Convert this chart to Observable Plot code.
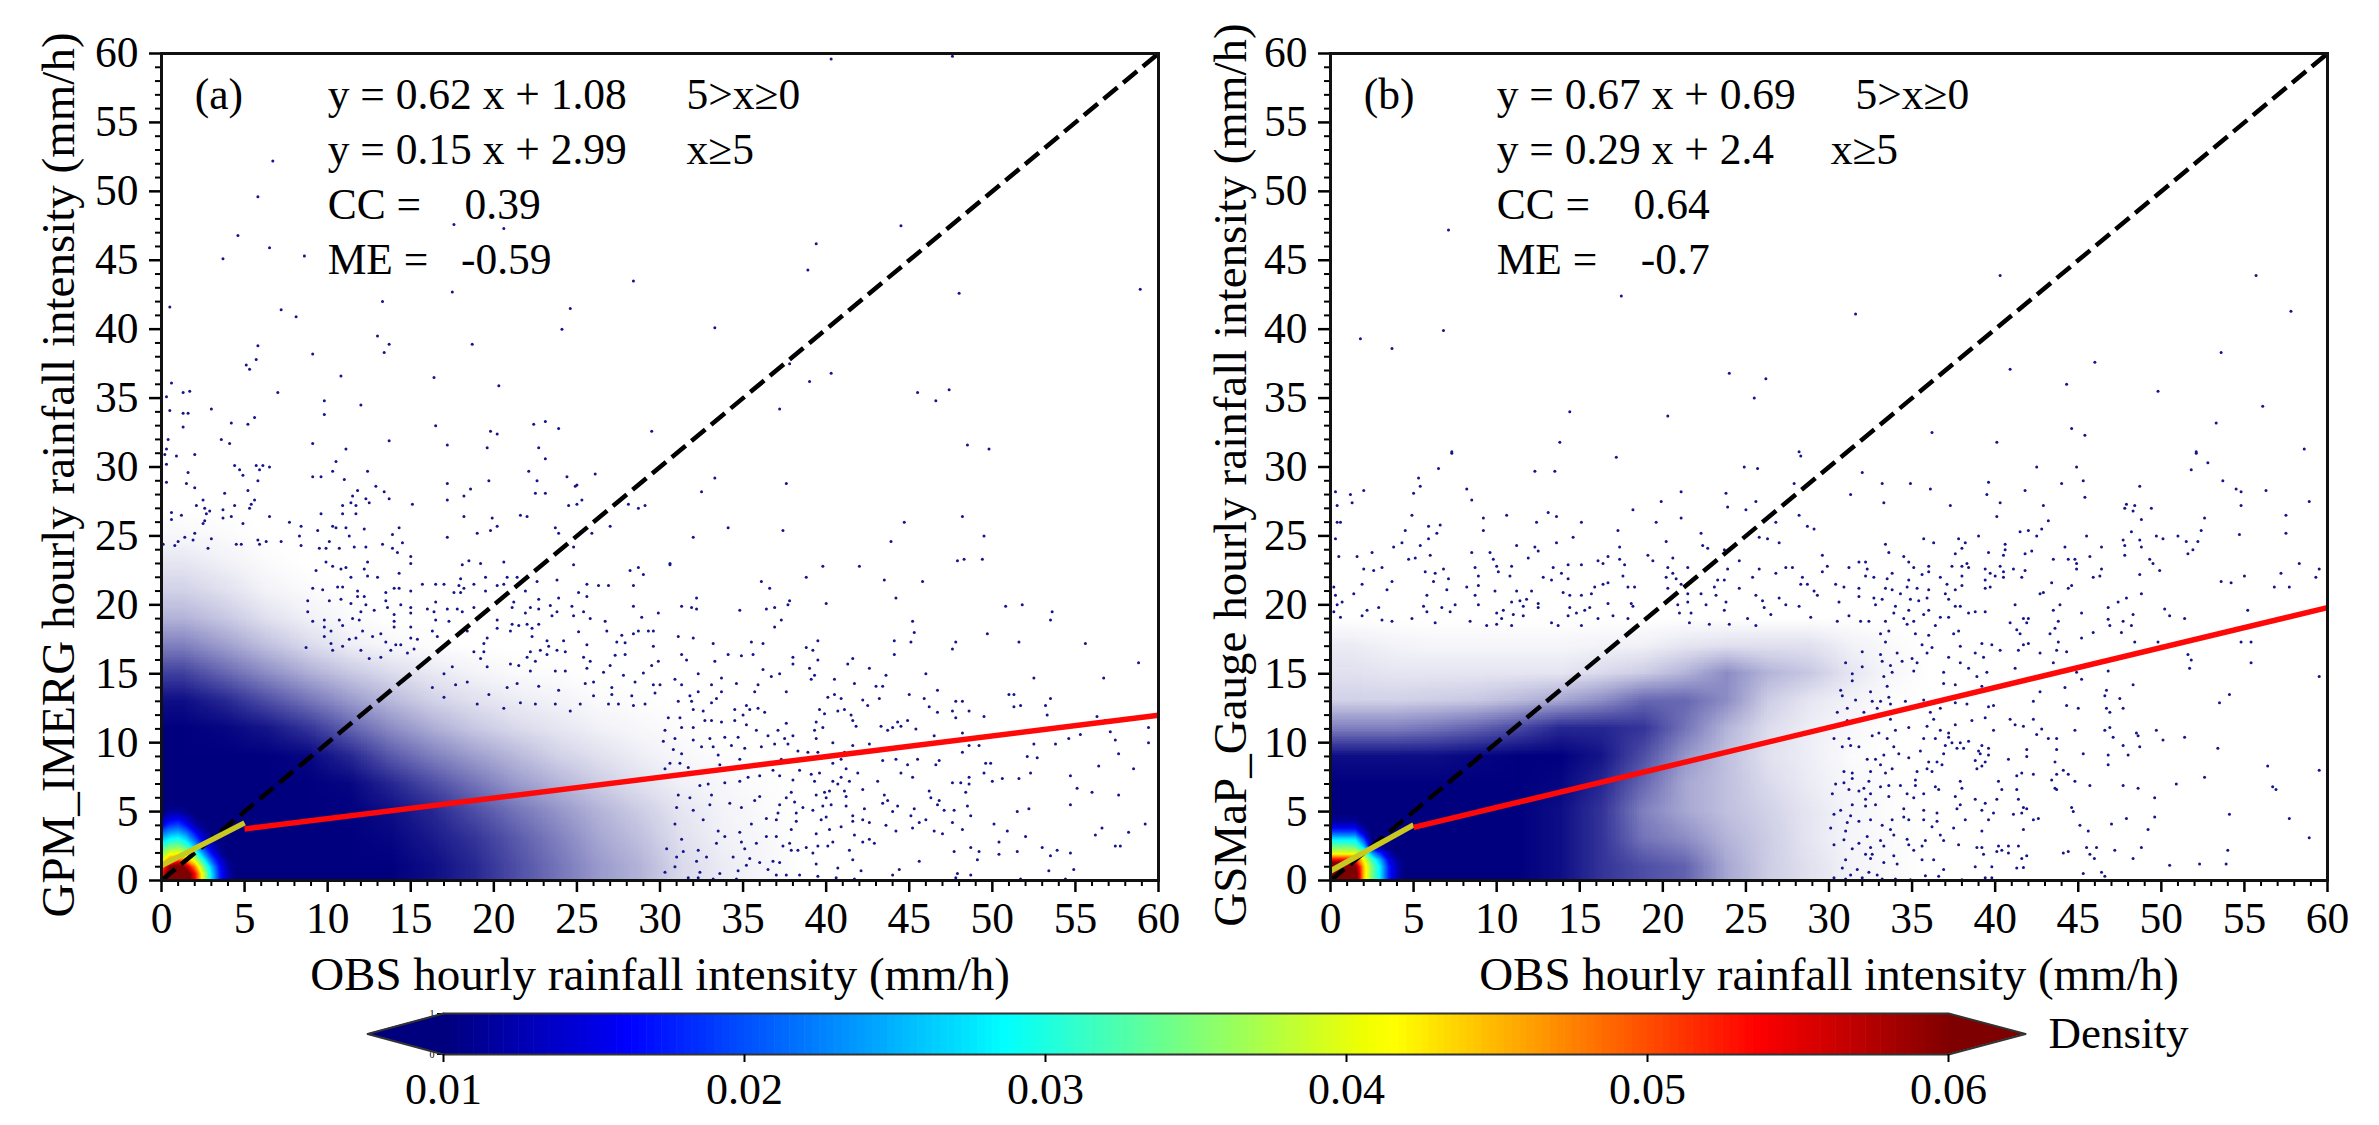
<!DOCTYPE html>
<html><head><meta charset="utf-8">
<script src="https://cdn.jsdelivr.net/npm/d3@7"></script>
<script src="https://cdn.jsdelivr.net/npm/@observablehq/plot@0.6"></script>
<style>
html,body{margin:0;padding:0;background:#fff}
#row{display:flex;width:2379px}
svg{display:block;overflow:visible}
</style></head><body>
<div id="row"></div><div id="bar"></div>
<script>
const FONT = "Liberation Serif";
const majorTicks = [0,5,10,15,20,25,30,35,40,45,50,55,60];
const minorTicks = d3.range(0,61).filter(v => v % 5 !== 0);
const densityTicks = [0.01,0.02,0.03,0.04,0.05,0.06];
const jetStops = [0.01,0.0155,0.016,0.0275,0.0285,0.0405,0.0415,0.0535,0.06];
const jetColors = ["#00007f","#0000f0","#0000ff","#00e8ff","#00ffff","#f0ff00","#ffff00","#ff0000","#7f0000"];

const labelA = "(a)", labelB = "(b)";
const titleYA = "GPM_IMERG hourly rainfall intensity (mm/h)";
const titleYB = "GSMaP_Gauge hourly rainfall intensity (mm/h)";
const titleX = "OBS hourly rainfall intensity (mm/h)";
const statsA = ["y = 0.62 x + 1.08","y = 0.15 x + 2.99","CC =    0.39","ME =   -0.59"];
const statsB = ["y = 0.67 x + 0.69","y = 0.29 x + 2.4","CC =    0.64","ME =    -0.7"];
const rangeA = [{t:"5>x≥0",x:31.6,y:57},{t:"x≥5",x:31.6,y:53}];
const rangeB = [{t:"5>x≥0",x:31.6,y:57},{t:"x≥5",x:30.1,y:53}];

const identity = [[0,0],[60,60]];
const fitLowA = [[0,1.08],[5,4.18]], fitHighA = [[5,3.74],[60,11.99]];
const fitLowB = [[0,0.69],[5,4.04]], fitHighB = [[5,3.85],[60,19.8]];

// Share of the picture covered by overlapping dots, read by eye, 2.5 x 2 mm/h blocks. First row is lowest.
const coverageA = [
1,1,1,1,1,1,.95,.85,.7,.55,.4,.3,.15,.08,.04,0,
1,1,1,1,1,.98,.9,.8,.65,.5,.35,.25,.12,.06,.03,0,
1,1,1,1,1,.95,.85,.7,.55,.42,.3,.2,.1,.05,.02,0,
1,1,1,1,.98,.85,.7,.55,.4,.3,.2,.12,.06,.03,.01,0,
1,1,1,.98,.85,.65,.5,.38,.28,.18,.12,.07,.03,.01,0,0,
1,.98,.92,.8,.62,.45,.32,.22,.15,.1,.06,.03,.01,0,0,0,
.95,.85,.7,.55,.4,.28,.18,.12,.08,.05,.02,.01,0,0,0,0,
.75,.6,.45,.32,.22,.14,.09,.05,.02,.01,0,0,0,0,0,0,
.5,.38,.25,.15,.07,.03,.01,0,0,0,0,0,0,0,0,0,
.3,.22,.12,.06,.02,0,0,0,0,0,0,0,0,0,0,0,
.18,.12,.05,.02,0,0,0,0,0,0,0,0,0,0,0,0,
.1,.06,.02,0,0,0,0,0,0,0,0,0,0,0,0,0,
.03,.02,0,0,0,0,0,0,0,0,0,0,0,0,0,0,
0,0,0,0,0,0,0,0,0,0,0,0,0,0,0,0
];
const coverageB = [
1,1,1,1,1,.95,.8,.7,.62,.35,.2,.12,.05,.02,0,0,
1,1,1,1,1,.95,.8,.55,.45,.3,.2,.1,.04,.02,0,0,
1,1,1,1,1,.95,.8,.5,.35,.25,.18,.1,.04,.01,0,0,
1,1,1,1,1,.98,.85,.6,.35,.25,.15,.08,.03,.01,0,0,
.95,.95,.95,.98,1,1,.92,.7,.42,.25,.12,.07,.02,0,0,0,
.5,.5,.55,.62,.72,.85,.85,.8,.55,.3,.14,.07,.03,0,0,0,
.18,.18,.2,.22,.28,.35,.45,.6,.6,.45,.2,.1,.05,.01,0,0,
.12,.1,.1,.1,.1,.1,.15,.2,.3,.45,.3,.22,.1,.03,0,0,
.08,.05,.04,.04,.04,.04,.05,.06,.1,.12,.12,.12,.06,.02,0,0,
0,0,0,0,0,0,0,0,0,0,0,0,0,0,0,0
];
// Density near the origin, 0.5 mm/h grid, read by eye against the colour bar. First row is lowest.
const hotA = [
.05,.065,.07,.065,.055,.04,.028,.018,.013,.01,.01,
.052,.065,.07,.065,.054,.04,.028,.018,.013,.01,.01,
.048,.06,.065,.058,.048,.036,.026,.017,.012,.01,.01,
.04,.048,.05,.046,.04,.03,.021,.015,.011,.01,.01,
.036,.04,.041,.038,.032,.024,.017,.012,.01,.01,.01,
.031,.034,.035,.032,.026,.019,.014,.011,.01,.01,.01,
.026,.029,.03,.027,.021,.015,.012,.01,.01,.01,.01,
.021,.024,.025,.022,.017,.013,.01,.01,.01,.01,.01,
.016,.019,.02,.017,.013,.011,.01,.01,.01,.01,.01,
.013,.015,.016,.014,.011,.01,.01,.01,.01,.01,.01,
.01,.012,.012,.011,.01,.01,.01,.01,.01,.01,.01,
.01,.01,.01,.01,.01,.01,.01,.01,.01,.01,.01
];
const hotB = [
.07,.07,.07,.065,.045,.035,.028,.018,.013,.01,.01,
.07,.07,.07,.065,.045,.035,.028,.018,.013,.01,.01,
.07,.07,.07,.062,.045,.035,.028,.018,.013,.01,.01,
.054,.054,.054,.052,.042,.032,.025,.016,.012,.01,.01,
.04,.04,.04,.04,.035,.024,.018,.013,.01,.01,.01,
.034,.034,.034,.033,.026,.013,.011,.01,.01,.01,.01,
.028,.028,.028,.028,.02,.01,.01,.01,.01,.01,.01,
.02,.02,.02,.02,.014,.01,.01,.01,.01,.01,.01,
.014,.014,.014,.014,.011,.01,.01,.01,.01,.01,.01,
.011,.011,.011,.011,.01,.01,.01,.01,.01,.01,.01,
.01,.01,.01,.01,.01,.01,.01,.01,.01,.01,.01,
.01,.01,.01,.01,.01,.01,.01,.01,.01,.01,.01
];

// Individual dots: [OBS, GPM_IMERG]
const dotsAUpper = [[40.3,59.6],[47.6,59.8],[44.5,47.5],[39.4,46.2],[38.9,44.3],[48,42.6],[58.9,42.9],[33.3,40.1],[37.8,37.5],[40.3,36.8],[39,36.2],[45.5,35.4],[47.4,35.6],[46.6,34.8],[37.2,34.2],[48.5,31.6],[49.8,31.3],
[6.7,52.2],[5.8,49.6],[4.6,46.8],[6.5,45.9],[8.6,45.3],[3.7,45.1],[17.6,47.6],[20.6,47.3],[28.4,43.5],[17.5,42.7]];
const dotsALeft = [[13.3,42],[24.6,41.5],[7.2,41.4],[8.1,40.9],[0.5,41.6],[0,42.1],[24.1,40],[13,39.5],[13.7,38.9],[5.8,38.8],[18.7,38.9],[0,39.4],[13.4,38.3],[9.1,38.2],[5.7,37.8],[5.1,37.4],[5.3,37.1],[10.8,36.6],[16.4,36.5],[20.3,35.9],[0,36.3],[0.6,36.1],[1.3,35.4],[1.7,35.5],[7,35.4],[0.3,35.1],[9.8,34.8],[12,34.5],[3,34.2],[0.5,34.1],[1.3,33.9],[1.6,33.9],[9.8,33.8],[5.6,33.6],[4.2,33.2],[5.2,33.1],[1.3,32.9],[16.5,33],[19.8,32.6],[20.2,32.4],[22.4,33.1],[23.1,33.3],[23.9,32.8],[29.5,32.6],[0.4,32],[3.6,32],[4.1,31.7],[9.1,31.7],[13.7,31.9],[17.2,31.6],[19.6,31.4],[22.7,31.4],[11.1,31.3],[0.3,31.3],[2,30.9],[0.9,30.8],[0.2,30.9],[23.1,30.6],[10.5,30.4],[0.3,30.2],[4.4,30.1],[4.7,29.8],[5.7,30.1],[6.1,30.1],[6.5,30],[5.9,29.8],[1.6,29.6],[4.9,29.4],[10.3,29.7],[12.4,29.7],[22.1,29.7],[26.1,29.5],[9.1,29.3],[9.6,29.3],[11,29.1],[24.4,29.3],[0.3,28.9],[5.8,29],[1.5,28.8],[19.7,29],[22.6,29],[17.2,28.8],[25,28.7],[24.9,28.6],[2,28.5],[12.9,28.6],[5.2,28.3],[11.8,28.3],[13.4,28.2],[18.6,28.4],[3.8,28.1],[22.5,28.1],[23.1,28.1],[11.5,27.9],[18.2,27.9],[2.5,27.6],[5.6,27.6],[12.3,27.7],[13.7,27.7],[17.2,27.6],[11.4,27.4],[12.5,27.4],[15.1,27.3],[2.1,27.2],[4.4,27.2],[5.4,27.3],[10.9,27.2],[11.7,27.2],[25.3,27.6],[25,27.3],[24.5,27.2],[28.1,27.3],[29.1,27.2],[28.7,27],[2.6,27],[5.3,27],[2.9,26.8],[3.7,26.9],[0.6,26.7],[2.7,26.6],[9.6,26.6],[10.9,26.6],[11.7,26.6],[1.2,26.5],[3.7,26.3],[4.2,26.4],[6.5,26.4],[18.2,26.4],[19.9,26.3],[21.6,26.5],[22,26.4],[0.6,26.2],[2.6,26.1],[7.7,26],[2.5,25.9],[4.9,25.9],[8.4,25.7],[10.3,25.7],[10.5,25.6],[14.3,25.6],[20.2,25.7],[23.7,25.6],[27,25.7],[9.4,25.4],[11.1,25.6],[12.2,25.5],[19.8,25.4],[19,25.2],[23.9,25.2],[25.9,25.2],[2,25.2],[13.9,25.1],[8.3,25],[11.3,25],[1.4,24.9],[3,24.8],[17.2,24.9],[1.9,24.7],[5.8,24.7],[6.3,24.6],[7.2,24.6],[10.1,24.6],[4.5,24.4],[4.8,24.4],[5.9,24.4],[13.3,24.4],[14.5,24.5],[11.6,24.2],[12.3,24.2],[8.4,24.3],[13.9,24.1],[24.8,24.2],[0.8,24.3],[0.1,24.4],[1,24.6],[2.8,24.1],[10.7,24.1],[9.5,24.1],[9.9,24.1]];
const dotsAMiddle = [[14.2,23.8],[15,23.5],[9.9,23.1],[12.4,23.1],[15,23],[10.3,22.8],[10.8,22.6],[11.1,22.7],[12.2,22.6],[9.3,22.5],[14.3,22.3],[12.4,22.1],[13,22],[11.4,22],[18.1,22.9],[18.5,23.2],[19.2,23],[20.6,23.1],[24.8,22.9],[30.6,23],[28.7,22.7],[28.2,22.5],[29,22.2],[18,21.9],[19.5,22],[20.8,22],[21.4,22],[23.8,21.8],[22.6,21.7],[15.7,21.5],[16.5,21.5],[17,21.5],[18.8,21.5],[17.9,21.4],[20.2,21.4],[20.6,21.5],[25.6,21.5],[26.3,21.4],[26.9,21.4],[28.4,21.4],[14,21.2],[14.3,21.2],[10.6,21.3],[10.9,21.3],[9.1,21.2],[9.7,21.1],[11.8,21],[13.5,20.9],[15,21],[18.2,21.2],[17.6,20.9],[18,20.9],[19.5,21],[21.9,21],[25.1,20.9],[25.6,20.6],[11.8,20.6],[12.2,20.6],[23.9,20.5],[21.2,20.2],[22.7,20.4],[10.1,20.3],[10.8,20.4],[8.8,20.3],[13.5,20.3],[11.4,20.1],[16.5,20.2],[14.4,20],[15,19.8],[12.3,20],[23.4,19.96],[24.7,19.9],[28.4,19.9],[22.2,19.8],[22.7,19.7],[18.8,19.8],[17.8,19.7],[17.2,19.7],[16,19.7],[13.6,19.8],[12.8,19.6],[12,19.5],[8.8,19.5],[15,19.4],[16.4,19.5],[18.1,19.5],[21.1,19.8],[21.9,19.4],[23.8,19.5],[25.4,19.5],[29.9,19.4],[23.5,19.2],[24.8,19.2],[28.9,19.1],[14,19.3],[9.8,18.9],[10.7,18.9],[11.5,19],[11.9,18.9],[9.1,18.8],[14,18.8],[16.5,18.9],[17.3,18.8],[20.2,18.9],[21.1,18.6],[21.5,18.5],[22,18.6],[22.7,18.6],[25.8,19],[26.7,18.8],[18.4,18.1],[20.2,18.3],[21,18.1],[22.3,18.3],[9.8,18.4],[10.9,18.5],[14,18.4],[15,18.4],[10.2,18.1],[12.1,18.1],[13.2,17.9],[16.3,18.1],[25.1,18.05],[26.8,18.1],[28.7,18.1],[29.3,18.1],[29.6,18.1],[28.4,17.9],[27.7,17.8],[12.7,17.7],[16.6,17.7],[19.6,17.6],[22.3,17.7],[15,17.6],[9.8,17.7],[11.3,17.5],[11.7,17.6],[23.2,17.4],[24.2,17.4],[15.4,17.5],[27.4,17.3],[27.9,17.25],[25.6,17.1],[10.2,17.2],[14.1,17.1],[13.5,17.3],[19.4,17.2],[29.6,17],[23.3,17],[14.4,17.1],[8.7,16.9],[10.9,17],[12,16.7],[10.3,16.7],[13.8,16.7],[15.2,16.8],[18.8,16.6],[19.4,16.6],[22.2,16.6],[22.8,16.7],[23.8,16.7],[24.3,16.6],[27.3,16.35],[27.9,16.4],[23.2,16.4],[22,16.2],[19.2,16.1],[14.8,16.5],[13.2,16.2],[12.5,16.1],[25.4,16.2],[25.8,15.9],[22.5,15.9],[29.9,15.9],[27,15.6],[29.5,15.6],[17.5,15.5],[19.6,15.5],[21,15.7],[21.5,15.6],[25.6,15.4],[29,15.05],[27.8,14.9],[26.6,15.1],[24.3,15.2],[23.7,15.2],[22.2,15.2],[28.5,14.4],[29.6,14.2],[30,14.2],[26,14.4],[25.5,14.3],[27.1,14],[27.1,13.5],[28.3,13.4],[29.7,13.6],[29.1,12.8],[28.4,12.7],[27.5,12.8],[26.9,12.8],[26,13.4],[25.2,12.8],[23.7,12.8],[24.6,12.3],[22.7,14.1],[21.4,14.3],[23.9,13.8],[22.5,12.8],[21.6,12.9],[20.6,12.5],[20.8,14],[19.7,13.5],[18.4,14.4],[19,12.8],[17.7,14.2],[17,15],[17,13.3],[16.3,14]];
const dotsARight = [[33.3,29.2],[32.5,28.2],[37.6,28.8],[48.2,26.4],[44.7,26],[34.1,25.6],[37.4,25.4],[32,24.9],[49.5,25],[43.9,24.6],[47.9,23.2],[48.3,23.3],[49.4,23.3],[30.6,22.9],[39.8,22.8],[42,22.8],[38.8,22],[36.1,21.7],[43.5,21.8],[45.8,21.7],[36.6,21.2],[32.2,20.5],[44.2,20.5],[31.3,19.9],[31.9,19.8],[32.2,19.7],[34.8,19.6],[36.4,19.7],[36.9,19.8],[37.7,20],[37.8,20.3],[40,20.1],[50.8,19.9],[51.8,20],[53.6,19.5],[53.5,18.9],[37.3,18.9],[36.9,18.4],[45.2,18.8],[45.3,18],[49.7,17.9],[31.1,17.7],[32,17.6],[33.2,17.2],[35.5,17.3],[36.2,17.2],[39.5,17.4],[44.1,17.4],[45.1,17.3],[47.8,17.3],[47.6,16.8],[51.6,17.3],[55.6,17.2],[38.8,16.9],[39.2,16.7],[31.3,16.4],[34.1,16.4],[34.9,16.3],[35.6,16.4],[44.1,16.4],[31.6,16],[33.3,15.9],[38,16.2],[38,15.7],[39.5,16],[41.6,16.1],[41.3,15.7],[42.6,15.4],[39,15.4],[36.2,15.3],[37.2,15],[39.3,14.9],[39.1,14.6],[46,15],[43.6,14.9],[58.8,15.8],[56.7,14.7],[52.5,14.7],[40.5,14.6],[32.3,15],[33.7,14.7],[36.7,14.8],[30.9,14.6],[31.3,14.2],[33.1,14.2],[34.6,14.3],[35.9,14.2],[41.7,14.3],[43,14.1],[43.4,14.1],[46.7,13.8],[45,13.5],[51,13.5],[51.3,13.5],[40.5,13.5],[40.1,13.3],[40.9,13.2],[43.2,13.2],[45.9,13.2],[47.8,13],[48.2,13],[53.5,13.2],[42.2,13.1],[42.5,12.7],[37.6,13.7],[35.7,13.7],[33.7,13.7],[32.3,13.7],[31.8,13.4],[33.4,13.2],[31.1,13],[31.9,13],[33.1,12.9],[35.2,12.7],[35.9,12.5],[34.5,12.4],[35.4,12.4],[32,12.4],[32.6,12.3],[36.3,12.2],[39.6,12.4],[39.9,12.1],[40.7,12.3],[41.1,12.4],[41.5,12],[46.2,12.6],[46.7,12.2],[47.6,12.3],[48.6,12.3],[51.3,12.6],[51.7,12.7],[53.2,12.7],[53.3,12],[56.3,11.9],[47.8,11.8],[49.5,11.9],[30.5,11.8],[31.2,11.8],[32.7,11.6],[33.1,11.6],[33.7,11.5],[34.5,11.6],[35,12],[35.2,11.3],[37.6,11.4],[39.4,11.5],[41.6,11.6],[41.8,11.2],[43.3,11.2],[44.3,11.5],[44.9,11.6],[44.5,11.2],[45.4,11],[44,11.1],[43.7,10.9],[39.8,11.1],[39.3,10.9],[56.8,11.6],[59.4,11.1],[57.1,10.8],[55.3,10.6],[54.6,10.3],[57.4,10.2],[59.4,10],[53.8,9.9],[52.5,9.9],[57.6,9.2],[52.1,9],[52.7,8.9],[56.4,8.3],[58.5,8.1],[54.7,7.6],[52.3,7.8],[51.6,7.4],[50.6,7.4],[50,7.2],[49.5,7.8],[49.6,8.5],[49.9,8.5],[48.2,9.3],[49.2,9.8],[48.6,9.8],[48.2,10.7],[46.5,10.5],[46.8,8.7],[46.6,8.4],[48.6,7.5],[47.6,7.1],[48.1,7.1],[48.6,7],[45.2,7.5],[43.1,7.2],[55.1,6.7],[56,6.4],[57.6,6.2],[54.7,5.5],[52.2,5.2],[51.5,5],[48.4,6.4],[48.5,5.4],[48.7,4.7],[47.7,5.1],[47.1,5.1],[46.2,6.5],[46.3,6],[46.8,5.8],[46.7,5.5],[45.3,5.2],[44.3,5.4],[44,5],[45.1,4.7],[46,4.4],[45.6,4.2],[47.6,4.2],[50.1,4.1],[59.2,4.1],[56.6,3.8],[58.2,3.5],[56.2,3.3],[50.9,3.6],[52,3.2],[48.2,3.7],[47,3.4],[46.5,3.6],[45.2,3.8],[44.2,3.6],[43.6,4],[50.4,2.8],[57.4,2.5],[57.7,2.5],[53,2.4],[53.9,2.2],[54.7,2],[53.5,1.8],[48.7,2.4],[49.2,2.1],[50.4,1.9],[51.5,2.1],[47.7,2.1],[49.1,1.5],[45.6,1.4],[54.9,0.8],[53.4,0.7],[44.4,0.8],[44,0.4],[47.9,0.5],[47.8,0.2],[48.7,0.4],[51.7,0.1],[54.4,0.1],[41.7,0.1],[40.6,0.2],[42.1,0.7],[40.7,0.9],[41.6,1.5],[41.4,2.2],
[42.9,2.7],[42.6,3],[42.2,2.8],[41.7,3.3],[42.6,4.2],[42.2,4.4],[41.6,4.3],[41.6,4.7],[42.3,5.2],[41.2,5.4],[41.2,6.1],[41.1,6.5],[42.2,6.6],[41.4,7.2],[41.9,7.8],[41.2,8.1],[40.9,7.5],[40.4,7.2],[40.7,7],[40.4,8.5],[39.6,7.8],[39.1,7.7],[39.3,7.2],[39.9,6.4],[40.2,6.5],[39.4,6.2],[40,6],[40.3,5.5],[39.8,5.4],[39.2,5.1],[40,4.6],[39.7,4.4],[40.9,3.9],[40.2,3.7],[39.4,3.4],[40.4,2.8],[39.5,2.5],[40.1,2.5],[38.8,2.4],[39.2,2],[38.3,2.2],[37.9,2.2],[39.4,1.2],[39.5,0.3],[38.4,0.4],[37.6,0.4],[37,0.4],[37.2,1.3],[36.8,1.4],[37.8,2.7],[37.4,2.5],[37.9,3.7],[38.2,4.3],[38.2,4.9],[38.1,5.7],[37.9,6.4],[37.6,6],[37.2,5.5],[37.1,4.9],[37,4.4],[38.6,5.3],[38,7.3],[38.4,8],[36.8,8],[37.2,7.6],[36,7.6],[35.3,7.5],[34.8,7.2],[33.9,7.1],[38,8.7],[37.3,8.8],[39.5,9.3],[38.9,9.3],[38.3,9.4],[36.9,9.9],[36.1,9.7],[35.1,9.6],[34.8,8.8],[37.7,9.9],[37.5,10.3],[38,10.5],[37.1,10.9],[36.5,10.5],[35.8,10.9],[34.7,10.4],[34.3,9.8],[39.4,10.3],[40.4,10],[41.6,9.8],[42.6,9.9],[41.1,9.3],[40.9,8.8],[43.4,8.7],[44.2,8.8],[45.5,8.8],[44.9,8.4],[44.5,7.8],[43.5,6.2],[43.4,5.6],[43.7,5.8],
[32.4,6.9],[32.9,7],[31.1,6.2],[31.8,6],[33.1,6.2],[34.2,5.6],[34.9,5.3],[33,5.5],[31,5.3],[32,5.1],[35.7,5.8],[36,6.1],[35.5,4.1],[36.4,4.5],[33.5,3.6],[34.8,3.5],[30.9,4.1],[31.3,3],[32.6,4.4],[33.9,3.2],[34.9,2.8],[35.1,2.3],[35.8,2.7],[36.4,3.2],[37,3.2],[32.8,1.7],[31,1.7],[32.2,1.4],[34.4,1.7],[35.4,1.6],[36,1.3],[35.2,1.1],[36.5,0.8],[34.7,0.7],[33.6,0.5],[32.4,0.6],[30.9,1],[30.3,0.6],[31.7,0.2],[32.3,0.2],[34.6,0.1],[33.2,0.1],[30.4,2.3],[31.4,2.1],[33.4,2.7],[32.3,2.2],
[30.3,10.9],[30.9,10.3],[32,10.2],[33,10.3],[33.9,10.4],[32.5,9.7],[31.3,9.2],[33.2,9.7],[33.5,9.1],[30.6,8.5],[31.7,8.2],[33,8],[33.6,8.4],[30.3,8.1],[31.2,8.5],[30.2,10.1],[30.8,9.5],[32,11.1],[31.3,11.1]];

// Individual dots: [OBS, GSMaP_Gauge]
const dotsBUpper = [[7.1,47.2],[17.5,42.4],[6.8,39.9],[1.8,39.3],[3.7,38.6],[24,36.8],[26.2,36.4],[25.5,35],[14.4,34],[20.3,33.7],[13.8,31.8],[7.3,31.1],[28.2,31.1],
[40.3,43.9],[55.7,43.9],[31.6,41.1],[57.8,41.3],[53.6,38.3],[46,37.6],[40.9,37.1],[44.3,36],[49.8,35.5],[56.1,34.4],[53.3,33.2],[44.6,32.8],[45.4,32.3],[36.2,32.5],[40.1,31.8],[52.1,31.1],[58.6,31.3]];
const dotsBLeft = [[7.3,31],[17.2,30.7],[6.5,29.9],[12.3,29.7],[13.5,29.7],[24.9,30],[25.7,29.9],[28.3,30.8],[5.3,29.2],[5.4,28.6],[8.2,28.4],[2,28.3],[0.3,28.2],[5,28.1],[1.2,28],[21.1,28.2],[23.8,28.1],[27.9,28.8],[8.5,27.6],[1.3,27.4],[0.4,27.2],[19.9,27.5],[25.6,27.5],[23.9,27.1],[18.2,26.9],[25,26.9],[13.1,26.7],[4.9,26.5],[10.6,26.5],[13.6,26.4],[9.2,26.3],[21.1,26.3],[28.2,26.5],[0.4,26],[0.6,26],[12.4,26],[15.1,26],[19.6,26],[6.6,25.8],[5.9,25.7],[26.8,26],[28.7,25.7],[4.5,25.4],[9.2,25.4],[17.3,25.4],[29.1,25.5],[6.4,25.2],[22.3,25.2],[5.9,24.8],[0.3,24.8],[14.6,24.9],[25.8,24.9],[26.3,24.8],[4.3,24.5],[13.6,24.5],[20.2,24.6],[27,24.5],[3.8,24.2],[5.4,24.3],[11.2,24.3],[12.3,24.2],[17.4,24.2],[22.4,24.3],[22.7,24.1],[2.5,23.8],[8.5,23.8],[9.6,23.8],[12.5,23.9],[23.7,24],[19.1,23.6],[0.5,23.5],[1.6,23.5],[6,23.6],[5.1,23.4],[4.7,23.3],[9.8,23.3],[11.9,23.4],[16.7,23.5],[20.6,23.4],[29.6,23.6],[19.4,23.2],[16.1,23.2],[17.4,23.3],[24.6,23.2],[10,22.8],[10.9,22.8],[14.3,22.9],[15.1,22.9],[17.7,22.9],[16.4,23],[8.7,22.7],[2,22.6],[3.1,22.7],[13.4,22.7],[25.8,22.6],[27.4,22.7],[27.8,22.7],[29.9,22.8],[2.6,22.5],[6.8,22.6],[5.7,22.4],[10.1,22.4],[20.3,22.7],[21.5,22.7],[23.9,22.6],[29.6,22.4],[6.3,22.3],[13.9,22.3],[20.6,22.3],[17.6,22.1],[26.8,22.3],[25.4,22],[28.4,22],[12.8,22],[10.8,22.1],[8.9,22.1],[20.2,22],[7.1,21.9],[14.3,21.9],[13.3,21.8],[3.7,21.7],[6.2,21.7],[20.8,21.9],[23.3,21.8],[23.7,21.8],[1.9,21.5],[8.9,21.4],[16.4,21.5],[16.7,21.6],[15.9,21.3],[17.9,21.3],[18.3,21.3],[21.1,21.5],[28.3,21.5],[28.7,21.5],[8.2,21.3],[0.2,21.3],[24.6,21.2],[23.1,21.3],[20.3,21.2],[3.4,21.1],[7,21.1],[9.9,21],[11.2,21],[12.1,21],[14,20.9],[15.7,20.8],[1.4,20.8],[0.3,20.7],[21.5,20.8],[22.3,20.8],[29.1,21],[29.3,20.7],[5.8,20.7],[8.7,20.7],[14.4,20.7],[15.1,20.7],[23.2,20.7],[25.6,20.7],[11.8,20.4],[11.4,20.3],[10.9,20.2],[12.5,20.1],[27,20.5],[26,20.3],[0.7,20.2],[16.7,20.1],[23.8,20.2],[18.1,20.1],[0.4,20],[8.9,20],[20.9,20],[21.5,20.2],[22.6,20],[2.9,19.8],[5.6,19.9],[6.7,19.8],[7.5,20],[11.6,19.9],[12.5,19.8],[14.4,19.8],[15.6,19.8],[18.2,19.9],[28.2,19.9],[27.4,20],[2.2,19.6],[5.8,19.5],[15.3,19.6],[26.1,19.8],[23.7,19.6],[7.2,19.5],[10.4,19.6],[0.2,19.5],[21,19.4],[21.7,19.4],[14.8,19.4],[11,19.3],[10,19.4],[1.9,19.2],[14.3,19.2],[26.5,19.3],[0.6,19.1],[4.9,19],[11.6,19.2],[16.1,19],[17,19.2],[17.9,19],[8.4,18.8],[3.1,18.9],[3.7,18.8],[10.3,19],[25.1,19],[28.9,19.1],[24,18.6],[6.3,18.7],[13.3,18.7],[25.6,18.5],[9.4,18.5],[10,18.6],[10.9,18.5],[13.7,18.5],[15.1,18.5],[22.8,18.6],[21.6,18.7]];
const dotsBRight = [[52.1,31],[52.8,30.3],[42.5,30],[44.9,30],[51.8,29.8],[32,29.6],[53.7,29],[44,28.8],[45.3,29],[33.2,28.8],[34.9,28.8],[39.6,28.9],[48.7,28.6],[36.1,28.4],[41.8,28.3],[54.5,28.4],[54.8,28.2],[56.3,28.3],[31.3,28],[39.5,28],[45.4,27.8],[58.9,27.5],[33.3,27.4],[40.3,27.4],[37.3,27.2],[42.9,27.2],[47.9,27.3],[48.4,27.2],[47.8,27],[48.3,26.8],[54.8,27.2],[49.4,27],[57.5,26.5],[40.1,26.4],[52.6,26.3],[48.8,26.2],[43.2,26.1],[41.5,25.3],[42,25.4],[42.8,25.5],[48.2,25.3],[52.4,25.4],[57.5,25.2],[54.7,25.1],[45.5,25],[42.5,25],[39,25],[49.7,25],[50.1,24.8],[51,25],[35.7,24.8],[37.8,24.8],[47.7,24.7],[48.7,24.7],[51.5,24.6],[52.2,24.6],[33.4,24.4],[36.3,24.5],[38.2,24.5],[40.6,24.4],[47.8,24.3],[48.8,24.2],[44.2,24.2],[46.4,24.2],[38,24.1],[40.6,24],[51.9,24],[42.2,23.9],[33.6,23.8],[39.6,23.8],[41.8,23.7],[51.6,23.7],[37.6,23.7],[34.5,23.5],[40.5,23.6],[45.7,23.5],[47.8,23.6],[43.5,23.3],[44.4,23.3],[44.8,23.3],[49.3,23.3],[34.8,23.1],[31.8,23.1],[32.2,23.1],[38.3,23],[44.9,23],[49.5,23],[58.3,23],[36,22.8],[31.2,22.7],[35.1,22.7],[40.3,22.8],[37.4,22.8],[38,22.8],[38.4,22.7],[32.3,22.6],[39.4,22.6],[41.1,22.6],[41.8,22.5],[44.9,22.6],[46.4,22.6],[49.9,22.5],[59.5,22.6],[33.8,22.3],[36,22.4],[57.2,22.3],[32.2,22.1],[35.6,22.2],[38,22.1],[39.7,22.3],[40,22.1],[40.5,22.4],[48.7,22.2],[55,22.1],[32.7,22],[36.7,22],[40.5,22],[41.6,22],[46.3,22.1],[45.9,22],[59.3,22],[33.5,21.9],[34.8,21.8],[39.4,21.8],[53.6,21.7],[54.2,21.6],[43.4,21.6],[37.1,21.5],[30.4,21.5],[38,21.4],[44.6,21.4],[30.9,21.3],[31.8,21.2],[33.4,21.2],[34.7,21.3],[35.3,21.2],[36,21.1],[56.8,21.3],[57.7,21.3],[39.4,21.2],[39.7,21.3],[44.4,21.2],[33.8,21.1],[37.6,21.1],[37,20.8],[34.3,20.8],[42.7,20.8],[42.9,20.9],[48.8,20.8],[31.8,20.6],[35.9,20.5],[47.9,20.5],[37.2,20.4],[32.7,20.5],[33.2,20.4],[34.9,20.4],[35.4,20.3],[47.4,20.2],[30.6,20.2],[32.8,20],[41.2,20],[43.9,20],[34,19.9],[37.6,19.9],[37.9,19.9],[46.8,19.8],[50.2,19.7],[55.2,19.6],[43.5,19.6],[38.8,19.5],[39.4,19.5],[38.4,19.4],[33.9,19.4],[34.8,19.6],[36,19.6],[45.2,19.4],[48.3,19.3],[50.5,19.2],[35.7,19.3],[36.7,19.1],[37.2,19.1],[41.7,19],[42,19],[43.8,18.8],[46.8,18.96],[51.4,19],[47.7,18.8],[41.9,18.7],[40.9,18.7],[34.5,19],[34.7,18.6],[35.1,18.8],[33.4,18.8],[32.4,18.8],[31.9,18.8],[31.2,19.2],[30.5,18.8],[46.9,18.5],[48.2,18.5],[41.3,18.2],[43.6,18.3],[36.4,18.5],[41.5,17.9],[43.3,17.9],[45.9,18],[47.6,18],[35.2,17.9],[36,17.8],[37.5,17.9],[37.8,18.1],[33.6,18.1],[33.1,17.9],[45.2,17.6],[49.8,17.3],[48.4,17.3],[54.8,17.3],[55.4,17.3],[43.8,17.3],[42,17.2],[41.7,17.1],[39.2,17.2],[39.8,17.1],[37.9,17],[35.6,17.1],[33.4,17.3],[50,17],[43.7,16.7],[44.3,16.6],[41.4,16.7],[40.3,16.7],[36.2,16.9],[42.7,16.5],[38.8,16.5],[35.9,16.5],[34.1,16.5],[33.1,16.4],[32,16.6],[51.6,16.4],[47.8,16.3],[39.3,16.2],[37.2,16.2],[35,16.1],[51.8,16],[34.4,15.9],[33.2,15.9],[37.9,15.8],[43.5,15.8],[55.4,15.8],[35.3,15.8],[33.7,15.6],[32,15.5],[31,15.8],[38.4,15.4],[41.2,15.4],[51.7,15.4],[46.8,15.2],[44.9,15.1],[35.1,15.2],[33.8,15.1],[39.5,15.1],[36.9,15.1],[31.4,15],[38.9,14.8],[33.3,14.8],[45.2,14.6],[59.5,14.8],[33.5,14.1],[36.9,14.3],[37.6,14.2],[48.3,14.2],[31.4,14.5],[39.2,14.1],[44.2,14],[46.7,13.8],[42.7,13.7],[32.5,13.7],[30.7,13.8],[54.1,13.5],[46.6,13.4],[33.6,13.3],[47.5,13.2],[30.8,13.4],[35.7,13.1],[34.6,13],[42.3,13],[53.5,12.9],[32.6,13],[33.1,13],[31.6,13.1],[37.6,12.9],[38.3,12.8],[33.7,12.8],[35.3,12.7],[44.3,12.7],[39.6,12.6],[39.9,12.7],[45,12.5],[46.7,12.5],[47.7,12.5],[36.7,12.5],[32.9,12.5],[31.1,12.5],[32.1,12.2],[46.9,12.2],[36.1,12.2],[30.5,12.2],[39.4,11.8],[33.7,11.7],[40.9,11.7],[42.3,11.7],[31.1,11.6],[36.3,11.7],[38.6,11.6],[41.2,11.3],[41.7,11.2],[37.6,11.3],[35.9,11.2],[34.8,11.1],[34,10.9],[36.7,10.9],[37.2,10.7],[39.9,10.9],[42.8,11],[44.8,10.9],[46.6,10.9],[46.9,11.1],[48.5,10.7],[49.7,10.9],[32.6,10.5],[33,10.7],[42.5,10.6],[47.1,10.4],[48.6,10.5],[33.5,10.3],[35.7,10.3],[36.4,10.3],[37.2,10.4],[31.2,10.3],[30.3,10.3],[43.2,10.3],[43.7,10.3],[50.1,10.2],[51.4,10.4],[37.4,10],[37.9,10],[38.4,10.1],[47.7,9.8],[48.7,9.7],[30.8,9.7],[31.3,9.8],[31.8,9.7],[33.9,9.7],[37,9.8],[37.7,9.6],[38.1,9.6],[39.6,9.6],[39.2,9.8],[43.7,9.5],[41.9,9.5],[53.4,9.6],[39,9.4],[39.1,9.2],[34.2,9.2],[35.5,9.4],[36.9,9.2],[33.3,9.1],[45.3,9.2],[46.8,9.1],[48,9.1],[39.6,9.1],[41.9,9],[40.8,8.8],[32.8,8.8],[32.3,8.8],[34.8,8.9],[38.8,8.7],[36.5,8.6],[36,8.6],[36.8,8.4],[43.6,8.6],[39.4,8.6],[33.1,8.4],[46.8,8.4],[39.2,8.3],[56.4,8.3],[33.8,8.1],[35.9,8.1],[38.9,8.1],[59.5,8],[32.5,7.9],[30.9,7.9],[35.3,7.9],[36.2,7.9],[33.4,7.8],[31.4,7.8],[41.6,7.8],[41.3,7.6],[42.3,7.7],[43.7,7.7],[44.1,8],[44.4,7.7],[31.4,7.4],[52.6,7.5],[43.4,7.3],[35.2,7.3],[44.8,7.2],[40.2,7.2],[37.9,7.2],[30.9,7.1],[30.4,7],[32.4,7.2],[33.6,6.9],[34.3,6.9],[50.9,7],[47.7,6.9],[45.7,6.9],[35.2,6.9],[33.1,6.8],[36.4,6.8],[38,6.7],[36.6,6.6],[56.7,6.8],[56.9,6.6],[40.4,6.6],[41.3,6.6],[43.6,6.7],[43.7,6.6],[48.6,6.7],[31.2,6.6],[30.2,6.3],[31.8,6.5],[32.1,6.7],[32.5,6.3],[33.6,6.1],[34.7,6.3],[35.7,6.3],[37.6,6.1],[49.6,6],[38.8,5.9],[40.1,5.9],[41.4,5.9],[35.1,6],[32.2,5.9],[39.4,5.6],[32.8,5.5],[31.4,5.5],[37.9,5.5],[44.6,5.3],[41.7,5.3],[34.5,5.2],[32.2,5.4],[37.7,5.2],[39.2,5.1],[41.9,5.2],[44.7,5],[35.7,5.1],[30.7,5.1],[36.5,4.9],[41.6,4.9],[39.9,4.9],[41.1,4.8],[49.6,4.6],[54.1,4.8],[31.3,4.7],[34.5,4.6],[30.3,4.8],[42.6,4.5],[42.3,4.4],[38.2,4.4],[39.6,4.4],[57.7,4.5],[47.9,4.5],[33.8,4.4],[35.7,4.4],[32.5,4.4],[34.8,4.4],[36.5,4.3],[31.1,4.2],[31.8,4.3],[47,4.1],[45.1,4],[36.2,3.9],[33.2,4],[37.5,3.8],[30.1,3.8],[49.2,3.7],[41.7,3.7],[45.6,3.6],[33.7,3.7],[31,3.6],[39.2,3.6],[36.7,3.3],[33.9,3.3],[32.3,3.2],[36.9,2.9],[58.9,3.1],[35.8,2.9],[33.1,2.9],[34.7,3],[30.9,2.95],[31.8,2.7],[34.8,2.6],[37.8,2.6],[33.3,2.5],[35.6,2.5],[30.3,2.6],[40.2,2.5],[40.8,2.5],[41.4,2.5],[38.9,2.4],[39.2,2.4],[45.5,2.4],[46.1,2.4],[48.8,2.4],[32.5,2.4],[31.4,2.3],[35.1,2.2],[40.1,2.1],[40.4,2.2],[47.2,2.2],[54,2.2],[44.1,2],[44.4,2.1],[40.8,2],[39.3,1.9],[41.9,1.8],[45.7,1.9],[32.6,1.9],[33.9,1.8],[32.2,1.9],[48.3,1.6],[45.97,1.6],[41.6,1.6],[35.6,1.5],[36.3,1.5],[31,1.5],[32.5,1.6],[33.3,1.3],[34.1,1.2],[50.5,1.1],[52.3,1.2],[53.9,1.2],[30.8,0.9],[38.8,1],[39.8,1],[41.3,0.9],[41.7,0.95],[36.9,0.8],[31.7,0.8],[32.4,0.6],[45.3,0.5],[46.4,0.6],[46.6,0.3],[32.9,0.4],[31.3,0.4],[35.8,0.35],[36.6,0.3],[39.4,0.2],[39.8,0.2],[32,0.2],[30.3,0.2],[31,0.1],[33.2,0.1],[34,0.1],[34.9,0.05],[38,0.05]];

const colorScale = {type:"linear", domain:jetStops, range:jetColors, clamp:true, interpolate:"rgb"};
const pt = a => a.map(([x,y]) => ({x,y}));

function panel({dots, coverage, coverageRows, hot, fitLow, fitHigh, stats, ranges, tag, titleY, width, marginLeft, marginRight, titleDx}) {
  const F = 43.5;
  return Plot.plot({
    width, height:960, marginLeft, marginRight, marginTop:53, marginBottom:80,
    style:{fontFamily:FONT, color:"#000", background:"transparent", overflow:"visible"},
    x:{domain:[0,60]}, y:{domain:[0,60]},
    color:colorScale, opacity:{type:"linear", domain:[0,1], range:[0,1]},
    marks:[
      Plot.raster(coverage,{width:16,height:coverageRows,x1:0,x2:40,y1:0,y2:coverageRows*2,fill:"#00007f",fillOpacity:d=>d}),
      Plot.dot(pt(dots),{x:"x",y:"y",r:1.5,fill:"#14148c",stroke:"none"}),
      Plot.contour(hot,{width:11,height:12,x1:-0.25,x2:5.25,y1:-0.25,y2:5.75,fill:Plot.identity,stroke:"none",
        thresholds:d3.range(0.0105,0.0705,0.001),clip:true}),
      Plot.line(pt(identity),{x:"x",y:"y",stroke:"#000",strokeWidth:4.5,strokeDasharray:"18,7.5",strokeLinecap:"butt"}),
      Plot.line(pt(fitLow),{x:"x",y:"y",stroke:"#c8c81e",strokeWidth:5.5,strokeLinecap:"butt"}),
      Plot.line(pt(fitHigh),{x:"x",y:"y",stroke:"#ff0808",strokeWidth:5.5,strokeLinecap:"butt"}),
      Plot.axisX({ticks:minorTicks,tickSize:6,tickFormat:()=>"",label:null,strokeWidth:2}),
      Plot.axisY({ticks:minorTicks,tickSize:6,tickFormat:()=>"",label:null,strokeWidth:2}),
      Plot.axisX({ticks:majorTicks,tickSize:12,tickPadding:10,fontSize:F,tickFormat:d=>String(d),label:null,strokeWidth:2.5}),
      Plot.axisY({ticks:majorTicks,tickSize:12,tickPadding:11,fontSize:F,tickFormat:d=>String(d),label:null,strokeWidth:2.5}),
      Plot.frame({stroke:"#111",strokeWidth:3,fill:"none"}),
      Plot.text([tag],{x:2,y:57,text:d=>d,textAnchor:"start",lineAnchor:"middle",fontSize:F,fill:"#000"}),
      Plot.text(stats,{x:10,y:(d,i)=>[57,53,49,45][i],text:d=>d,textAnchor:"start",lineAnchor:"middle",fontSize:F,fill:"#000"}),
      Plot.text(ranges,{x:"x",y:"y",text:"t",textAnchor:"start",lineAnchor:"middle",fontSize:F,fill:"#000"}),
      Plot.text([titleX],{frameAnchor:"bottom",textAnchor:"middle",lineAnchor:"middle",dy:94,text:d=>d,fontSize:47,fill:"#000"}),
      Plot.text([titleY],{frameAnchor:"left",textAnchor:"middle",lineAnchor:"middle",rotate:-90,dx:-titleDx,dy:8,text:d=>d,fontSize:47,fill:"#000"})
    ]
  });
}

const row = document.getElementById("row");
row.append(panel({dots:[...dotsAUpper,...dotsALeft,...dotsAMiddle,...dotsARight],coverage:coverageA,coverageRows:14,hot:hotA,fitLow:fitLowA,fitHigh:fitHighA,stats:statsA,ranges:rangeA,tag:labelA,titleY:titleYA,width:1200,marginLeft:161,marginRight:42,titleDx:103}));
row.append(panel({dots:[...dotsBUpper,...dotsBLeft,...dotsBRight],coverage:coverageB,coverageRows:10,hot:hotB,fitLow:fitLowB,fitHigh:fitHighB,stats:statsB,ranges:rangeB,tag:labelB,titleY:titleYB,width:1179,marginLeft:130,marginRight:52,titleDx:100}));

// Colour bar
const barLo = 0.00748, barHi = 0.06256;
const steps = d3.range(0.01,0.06,0.00025);
const bar = Plot.plot({
  width:2379,height:165,marginLeft:443,marginRight:431,marginTop:53,marginBottom:71,
  style:{fontFamily:FONT,color:"#000",background:"transparent",overflow:"visible"},
  x:{domain:[0.01,0.06]},y:{domain:[0,1]},color:colorScale,
  marks:[
    Plot.rect(steps,{x1:d=>d,x2:d=>d+0.00027,y1:0,y2:1,fill:d=>d}),
    Plot.area([{x:barLo,a:.5,b:.5},{x:0.01,a:0,b:1}],{x1:"x",y1:"a",y2:"b",fill:"#00007f"}),
    Plot.area([{x:0.06,a:0,b:1},{x:barHi,a:.5,b:.5}],{x1:"x",y1:"a",y2:"b",fill:"#7f0000"}),
    Plot.line([{x:0.01,y:1},{x:barLo,y:.5},{x:0.01,y:0}],{x:"x",y:"y",stroke:"#333",strokeWidth:2}),
    Plot.line([{x:0.06,y:1},{x:barHi,y:.5},{x:0.06,y:0}],{x:"x",y:"y",stroke:"#333",strokeWidth:2}),
    Plot.ruleY([0,1],{x1:0.01,x2:0.06,stroke:"#333",strokeWidth:2}),
    Plot.axisX({ticks:densityTicks,tickSize:8,tickPadding:10,fontSize:44,tickFormat:d3.format(".2f"),label:null,strokeWidth:2}),
    Plot.text(["Density"],{x:0.06332,y:.5,text:d=>d,textAnchor:"start",lineAnchor:"middle",fontSize:45,fill:"#000"})
  ]
});
document.getElementById("bar").append(bar);
</script>
</body></html>
